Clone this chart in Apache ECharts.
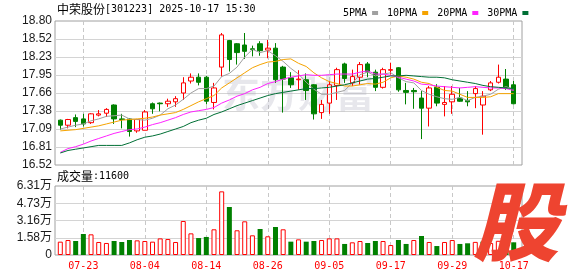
<!DOCTYPE html>
<html>
<head>
<meta charset="utf-8">
<script src="https://cdn.jsdelivr.net/npm/echarts@6/dist/echarts.min.js"></script>
<style>
html,body{margin:0;padding:0;background:#fff;}
#chart{width:578px;height:276px;}
</style>
</head>
<body>
<div id="chart"></div>
<script>
const titleName = '中荣股份';
const titleCode = '[301223]';
const titleTime = '2025-10-17 15:30';
const volTitle = '成交量';
const watermark = '东方财富';
const logoChar = '股';

const dates = ['07-18','07-21','07-22','07-23','07-24','07-25','07-28','07-29','07-30','07-31',
'08-01','08-04','08-05','08-06','08-07','08-08','08-11','08-12','08-13','08-14',
'08-15','08-18','08-19','08-20','08-21','08-22','08-25','08-26','08-27','08-28',
'08-29','09-01','09-02','09-03','09-04','09-05','09-08','09-09','09-10','09-11',
'09-12','09-15','09-16','09-17','09-18','09-19','09-22','09-23','09-24','09-25',
'09-26','09-29','09-30','10-09','10-10','10-13','10-14','10-15','10-16','10-17'];

const opens = [17.23,17.15,17.27,17.25,17.19,17.31,17.34,17.47,17.25,17.25,
17.06,17.07,17.49,17.50,17.49,17.52,17.66,17.85,17.91,17.91,
17.51,18.07,18.49,18.44,18.42,18.36,18.44,18.34,18.37,18.07,
17.90,17.87,17.87,17.79,17.35,17.50,17.78,18.12,17.82,17.91,
18.12,17.99,17.75,18.02,18.06,17.70,17.70,17.58,17.42,17.75,
17.48,17.52,17.58,17.54,17.65,17.47,17.71,17.83,17.88,17.79];

const closes = [17.15,17.24,17.21,17.17,17.33,17.33,17.40,17.25,17.24,17.05,
17.24,17.36,17.41,17.49,17.53,17.57,17.82,17.91,17.83,17.53,
17.74,18.58,18.19,18.30,18.32,18.35,18.33,18.37,17.87,17.88,
17.79,17.88,17.70,17.33,17.48,17.79,18.03,17.89,17.92,18.11,
17.99,17.75,18.03,18.03,17.71,17.67,17.68,17.42,17.74,17.50,
17.51,17.64,17.53,17.52,17.73,17.61,17.82,17.91,17.74,17.49];

const lows = [17.08,17.10,17.12,17.13,17.17,17.29,17.28,17.17,17.10,16.97,
17.03,17.07,17.33,17.37,17.44,17.44,17.55,17.81,17.78,17.48,
17.40,17.92,18.00,18.11,18.20,18.24,18.25,18.21,17.82,17.35,
17.74,17.71,17.55,17.24,17.25,17.33,17.55,17.82,17.77,17.79,
17.91,17.69,17.73,17.95,17.68,17.48,17.41,16.93,17.13,17.45,
17.29,17.33,17.52,17.45,17.42,17.00,17.69,17.81,17.71,17.48];

const highs = [17.24,17.25,17.32,17.33,17.34,17.39,17.42,17.48,17.33,17.26,
17.25,17.39,17.51,17.51,17.57,17.61,17.91,17.97,17.97,17.93,
17.82,18.61,18.50,18.45,18.61,18.41,18.48,18.50,18.45,18.09,
17.99,18.02,17.97,17.80,17.55,17.85,18.06,18.14,18.03,18.15,
18.15,18.03,18.06,18.14,18.07,17.82,17.74,17.69,17.77,17.80,
17.77,17.77,17.74,17.69,17.77,17.69,17.85,18.11,18.04,17.85];

const ma5 = [17.09,17.12,17.15,17.17,17.22,17.25,17.29,17.30,17.31,17.25,
17.24,17.23,17.26,17.31,17.41,17.47,17.56,17.66,17.73,17.73,
17.77,17.92,17.97,18.07,18.23,18.35,18.30,18.33,18.25,18.16,
18.05,17.96,17.83,17.72,17.64,17.64,17.67,17.70,17.82,17.95,
17.99,17.93,17.96,17.98,17.90,17.84,17.82,17.70,17.64,17.60,
17.57,17.56,17.59,17.54,17.59,17.61,17.64,17.72,17.76,17.72];

const ma10 = [17.06,17.07,17.08,17.10,17.12,17.14,17.17,17.20,17.23,17.24,
17.25,17.26,17.28,17.31,17.33,17.35,17.40,17.46,17.52,17.57,
17.62,17.74,17.82,17.90,17.98,18.06,18.11,18.15,18.16,18.19,
18.20,18.13,18.08,17.98,17.90,17.84,17.81,17.77,17.77,17.79,
17.81,17.80,17.83,17.90,17.93,17.91,17.88,17.83,17.81,17.75,
17.70,17.69,17.64,17.59,17.59,17.59,17.60,17.65,17.65,17.65];

const ma20 = [16.72,16.78,16.81,16.85,16.90,16.94,16.98,17.02,17.05,17.08,
17.09,17.12,17.16,17.19,17.23,17.27,17.32,17.36,17.38,17.40,
17.43,17.50,17.55,17.61,17.65,17.71,17.75,17.81,17.84,17.88,
17.91,17.93,17.95,17.94,17.94,17.95,17.96,17.96,17.96,17.99,
18.01,17.96,17.96,17.94,17.91,17.88,17.85,17.80,17.79,17.77,
17.76,17.75,17.74,17.75,17.76,17.75,17.74,17.74,17.73,17.70];

const ma30 = [16.71,16.75,16.77,16.79,16.81,16.83,16.83,16.83,16.83,16.87,
16.92,16.96,16.98,17.01,17.05,17.09,17.13,17.19,17.23,17.26,
17.32,17.36,17.41,17.46,17.50,17.54,17.58,17.62,17.65,17.67,
17.69,17.71,17.73,17.73,17.74,17.75,17.77,17.79,17.82,17.85,
17.88,17.89,17.91,17.93,17.93,17.94,17.93,17.92,17.91,17.91,
17.90,17.87,17.85,17.83,17.81,17.78,17.76,17.75,17.74,17.73];

const volumes = [12200,13700,12800,19200,18900,11900,11000,12800,11900,13700,
13400,12800,12200,15200,14600,11900,31100,19800,15500,16500,
23500,58200,43900,22600,30800,18000,23800,17100,25600,23500,
12200,14300,12200,12800,13700,15200,15200,10100,11600,12800,
11000,12800,12800,9100,13700,10100,13700,17400,11900,8200,
11900,13700,10100,10700,12000,12200,11000,13000,10100,11600];

const volUp = [1,1,0,0,1,1,1,0,0,0,
1,1,1,1,1,1,1,1,0,0,
1,1,0,1,1,1,0,1,0,1,
0,1,0,0,1,1,1,0,1,1,
0,0,1,1,0,0,1,0,1,0,
1,1,0,0,1,0,1,1,0,0];

const priceTickLabels = ['16.52','16.81','17.09','17.38','17.66','17.95','18.23','18.52','18.80'];
const volTickLabels = ['0','1.58万','3.16万','4.73万','6.31万'];
const priceMin = 16.52, priceMax = 18.80;
const volMax = 63100;
const maNames = ['5PMA','10PMA','20PMA','30PMA'];

const UP = '#ff0000', DOWN = '#008000';
const maColors = ['#a0a0a0', '#f5a300', '#ff22ff', '#006f35'];
const frameColor = '#a0a0a0', splitColor = '#d4d4d4', dashColor = '#c8c8c8';
const labelFont = "'Liberation Sans','Noto Sans CJK SC',sans-serif";
const monoFont = "'DejaVu Sans Mono',monospace";
const cjkFont = "'Noto Sans CJK SC',sans-serif";

const labelEvery = (idx) => idx % 8 === 3;

const chart = echarts.init(document.getElementById('chart'), null, {renderer: 'canvas'});

const frameY = (labels, top, height) => ({
  type: 'value', min: 0, max: labels.length - 1, interval: 1,
  axisLine: {show: false}, axisTick: {show: false},
  axisLabel: {show: true, margin: 3, fontFamily: labelFont, fontSize: 12, color: '#1a1a1a',
    formatter: (v) => labels[Math.round(v)]},
  splitLine: {show: true, showMinLine: false, showMaxLine: false, lineStyle: {color: splitColor, width: 1}}
});

const dataX = (gridIndex, showLabel) => ({
  type: 'category', gridIndex, data: dates, boundaryGap: false,
  axisLine: {show: false}, axisTick: {show: false},
  axisLabel: {show: showLabel, interval: labelEvery, margin: 6, color: UP, fontFamily: monoFont, fontSize: 10},
  splitLine: {show: true, interval: labelEvery, lineStyle: {color: dashColor, type: [4, 3], width: 1}}
});

const option = {
  animation: false,
  backgroundColor: '#fff',
  grid: [
    {left: 55, width: 467, top: 21, height: 144, show: true, borderColor: frameColor, borderWidth: 1, backgroundColor: 'transparent'},
    {left: 60.3, right: 64.3, top: 21, height: 144},
    {left: 55, width: 467, top: 186, height: 69, show: true, borderColor: frameColor, borderWidth: 1, backgroundColor: 'transparent'},
    {left: 60.3, right: 64.3, top: 186, height: 69}
  ],
  xAxis: [
    {type: 'value', gridIndex: 0, show: false, min: 0, max: 1},
    dataX(1, false),
    {type: 'value', gridIndex: 2, show: false, min: 0, max: 1},
    dataX(3, true)
  ],
  yAxis: [
    Object.assign({gridIndex: 0}, frameY(priceTickLabels)),
    {type: 'value', gridIndex: 1, min: priceMin, max: priceMax, show: false, splitLine: {show: false}},
    Object.assign({gridIndex: 2}, frameY(volTickLabels)),
    {type: 'value', gridIndex: 3, min: 0, max: volMax, show: false, splitLine: {show: false}}
  ],
  legend: {
    left: 338, top: 3, align: 'right', icon: 'rect', itemWidth: 6, itemHeight: 4, itemGap: 9,
    selectedMode: false, data: maNames,
    textStyle: {fontFamily: monoFont, fontSize: 10, color: '#000'}
  },
  graphic: [
    {type: 'text', x: 222, y: 93, z: 1, silent: true,
      style: {text: watermark, font: "bold 38px 'Noto Sans CJK SC'", fill: 'rgba(170,170,185,0.28)', verticalAlign: 'middle'}},
    {type: 'text', x: 57, y: 9, z: 10,
      style: {text: '{c|' + titleName + '}{m|' + titleCode + ' ' + titleTime + '}', verticalAlign: 'middle',
        rich: {c: {fontFamily: cjkFont, fontSize: 12, fill: '#000'}, m: {fontFamily: monoFont, fontSize: 10, fill: '#000'}}}},
    {type: 'text', x: 57, y: 176.5, z: 10,
      style: {text: '{c|' + volTitle + '}{m|:' + volumes[volumes.length - 1] + '}', verticalAlign: 'middle',
        rich: {c: {fontFamily: cjkFont, fontSize: 12, fill: '#000'}, m: {fontFamily: monoFont, fontSize: 10, fill: '#000'}}}},
    {type: 'text', x: 516, y: 221, z: 100, silent: true,
      style: {text: logoChar, font: "italic 900 86px 'Noto Sans CJK SC'", fill: '#ee4430', align: 'center', verticalAlign: 'middle'}}
  ],
  series: [
    {
      type: 'candlestick', xAxisIndex: 1, yAxisIndex: 1, barWidth: 5, clip: false,
      data: dates.map((d, i) => [opens[i], closes[i], lows[i], highs[i]]),
      itemStyle: {color: '#fff', color0: DOWN, borderColor: UP, borderColor0: DOWN, borderWidth: 1}
    },
    ...[ma5, ma10, ma20, ma30].map((arr, k) => ({
      name: maNames[k], type: 'line', xAxisIndex: 1, yAxisIndex: 1, data: arr,
      showSymbol: false, symbol: 'none', smooth: false, clip: false,
      lineStyle: {color: maColors[k], width: 1}, itemStyle: {color: maColors[k]}
    })),
    {
      type: 'bar', xAxisIndex: 3, yAxisIndex: 3, barWidth: 5, clip: false,
      data: volumes.map((v, i) => ({
        value: v,
        itemStyle: volUp[i] ? {color: '#fff', borderColor: UP, borderWidth: 1} : {color: DOWN, borderColor: DOWN, borderWidth: 0}
      }))
    }
  ]
};
chart.setOption(option);
</script>
</body>
</html>
